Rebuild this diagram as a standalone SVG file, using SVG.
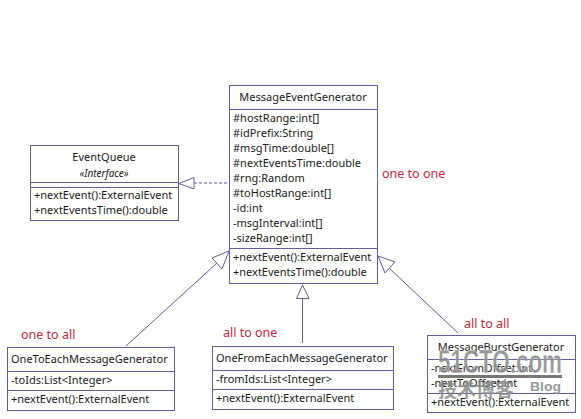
<svg xmlns="http://www.w3.org/2000/svg" width="581" height="419" viewBox="0 0 581 419">
<style>
.b{fill:#fff;stroke:#5f5f9f;stroke-width:1}
.l{stroke:#5f5f9f;stroke-width:1;fill:none}
.h{fill:#fff;stroke:#5f5f9f;stroke-width:1}
text{font-family:"Noto Sans","Open Sans","DejaVu Sans",sans-serif;font-size:11px;fill:#1a1a1a}
.c{text-anchor:middle}
.i{font-style:italic;font-size:10px}
.r{font-size:12.500px;fill:#c8283c}
.w{font-family:"Liberation Sans",sans-serif;font-weight:bold;fill:#8a8a8a;stroke:#fff;stroke-width:.4;fill-opacity:.9}
.wc{font-family:"Noto Sans CJK SC",sans-serif;font-weight:bold;fill:#8a8a8a;fill-opacity:.85}
</style>
<rect width="581" height="419" fill="#fff"/>
<g id="connectors">
<path class="l" stroke-dasharray="3 2" d="M194 183H229"/>
<path class="h" d="M179 183.500L194 177.500V189Z"/>
<path class="l" d="M126 346L217 263"/>
<path class="h" d="M229 251L212 258L222 269Z"/>
<path class="l" d="M302.500 298V343"/>
<path class="h" d="M302.500 285L296.500 298.500H309Z"/>
<path class="l" d="M458 333L389 268"/>
<path class="h" d="M378 256L395 262L385 273Z"/>
</g>
<g id="MessageEventGenerator">
<rect class="b" x="229.500" y="85.500" width="148" height="198"/>
<path class="l" d="M229.500 109.500H377.500M229.500 248.500H377.500"/>
<text class="c" x="303" y="101">MessageEventGenerator</text>
<text x="233" y="122">#hostRange:int[]</text>
<text x="233" y="137">#idPrefix:String</text>
<text x="233" y="152">#msgTime:double[]</text>
<text x="233" y="167">#nextEventsTime:double</text>
<text x="233" y="182">#rng:Random</text>
<text x="233" y="197">#toHostRange:int[]</text>
<text x="233" y="212">-id:int</text>
<text x="233" y="227">-msgInterval:int[]</text>
<text x="233" y="242">-sizeRange:int[]</text>
<text x="233" y="261">+nextEvent():ExternalEvent</text>
<text x="233" y="276">+nextEventsTime():double</text>
</g>
<g id="EventQueue">
<rect class="b" x="30.500" y="145.500" width="148" height="75"/>
<path class="l" d="M30.500 182.500H178.500M30.500 187.500H178.500"/>
<text class="c" x="104" y="161">EventQueue</text>
<text class="c i" x="104" y="177">«Interface»</text>
<text x="34" y="199">+nextEvent():ExternalEvent</text>
<text x="34" y="214">+nextEventsTime():double</text>
</g>
<g id="OneToEachMessageGenerator">
<rect class="b" x="7.500" y="347.500" width="167" height="63"/>
<path class="l" d="M7.500 371.500H174.500M7.500 390.500H174.500"/>
<text x="11" y="363">OneToEachMessageGenerator</text>
<text x="11" y="384">-toIds:List&lt;Integer&gt;</text>
<text x="11" y="403">+nextEvent():ExternalEvent</text>
</g>
<g id="OneFromEachMessageGenerator">
<rect class="b" x="212.500" y="346.500" width="181" height="63"/>
<path class="l" d="M212.500 370.500H393.500M212.500 389.500H393.500"/>
<text x="216" y="362">OneFromEachMessageGenerator</text>
<text x="216" y="383">-fromIds:List&lt;Integer&gt;</text>
<text x="216" y="402">+nextEvent():ExternalEvent</text>
</g>
<g id="MessageBurstGenerator">
<rect class="b" x="427.500" y="335.500" width="148" height="77"/>
<path class="l" d="M427.500 359.500H575.500M427.500 393.500H575.500"/>
<text class="c" x="501" y="351">MessageBurstGenerator</text>
<text x="431" y="372">-nextFromOffset:int</text>
<text x="431" y="387">-nextToOffset:int</text>
<text x="431" y="406">+nextEvent():ExternalEvent</text>
</g>
<g id="labels">
<text class="r" x="382" y="178">one to one</text>
<text class="r" x="21" y="339">one to all</text>
<text class="r" x="223" y="337">all to one</text>
<text class="r" x="464" y="328">all to all</text>
</g>
<g id="watermark">
<text class="w" x="438" y="373" style="font-size:33px" textLength="124" lengthAdjust="spacingAndGlyphs">51CTO.com</text>
<rect x="438" y="375" width="124" height="3" fill="#777"/>
<text class="wc" x="438" y="397" style="font-size:19px">技术博客</text>
<text class="w" x="530" y="391" style="font-size:12px;stroke:none" textLength="31" lengthAdjust="spacingAndGlyphs">Blog</text>
</g>
</svg>
